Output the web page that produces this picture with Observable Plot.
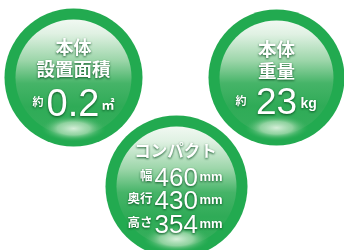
<!DOCTYPE html>
<html><head><meta charset="utf-8">
<script src="https://cdn.jsdelivr.net/npm/d3@7"></script>
<script src="https://cdn.jsdelivr.net/npm/@observablehq/plot@0.6"></script>
<style>
html,body{margin:0;padding:0;background:#fff;}
#chart svg text{filter:drop-shadow(0.6px 1px 0.8px rgba(0,70,25,0.85));}
</style>
</head><body>
<svg width="0" height="0" style="position:absolute">
<defs>
<linearGradient id="hl" x1="0" y1="0" x2="0" y2="1">
<stop offset="0" stop-color="#f1f9f2"/>
<stop offset="0.12" stop-color="#e0f1e3"/>
<stop offset="0.35" stop-color="#9dd6aa"/>
<stop offset="0.55" stop-color="#46b468"/>
<stop offset="0.75" stop-color="#2fab57"/>
<stop offset="1" stop-color="#36af5c"/>
</linearGradient>
<radialGradient id="glow" cx="0.5" cy="0.5" r="0.5" gradientTransform="translate(0.5,0.5) scale(1,0.4) translate(-0.5,-0.5)">
<stop offset="0" stop-color="#d6efd9" stop-opacity="1"/>
<stop offset="0.5" stop-color="#a6dbb0" stop-opacity="0.8"/>
<stop offset="1" stop-color="#3bb060" stop-opacity="0"/>
</radialGradient>
</defs>
</svg>
<div id="chart"></div>
<script>
// ---- data ----
const titles = [["本体", "設置面積"], ["本体", "重量"], ["コンパクト"]];
const approx = "約";
const areaValue = "0.2";
const areaUnit = "㎡";
const weightValue = "23";
const weightUnit = "kg";
const dimLabels = ["幅", "奥行", "高さ"];
const dimValues = ["460", "430", "354"];
const dimUnit = "mm";

// ---- layout ----
const circles = [
  {cx: 73, cy: 77, r: 69},
  {cx: 276, cy: 77, r: 68},
  {cx: 176, cy: 186, r: 71}
];
const ring = 11;
const CJK = "'Noto Sans CJK JP', sans-serif";
const NUM = "'Liberation Sans', Arial, sans-serif";

const texts = [];
// circle 1
texts.push({x: 73, y: 47.5, t: titles[0][0], s: 18, a: "middle", f: CJK, la: "middle"});
texts.push({x: 73, y: 70, t: titles[0][1], s: 18.5, a: "middle", f: CJK, la: "middle"});
texts.push({x: 43, y: 102, t: approx, s: 11, a: "end", f: CJK, la: "middle"});
texts.push({x: 46, y: 115, t: areaValue, s: 38, a: "start", f: NUM, la: "bottom", w: "normal"});
texts.push({x: 101, y: 108, t: areaUnit, s: 13, a: "start", f: CJK, la: "bottom"});
// circle 2
texts.push({x: 276, y: 49.5, t: titles[1][0], s: 18.5, a: "middle", f: CJK, la: "middle"});
texts.push({x: 276, y: 71.5, t: titles[1][1], s: 18.5, a: "middle", f: CJK, la: "middle"});
texts.push({x: 246, y: 101, t: approx, s: 11, a: "end", f: CJK, la: "middle"});
texts.push({x: 276, y: 113, t: weightValue, s: 37, a: "middle", f: NUM, la: "bottom", w: "normal"});
texts.push({x: 300, y: 107, t: weightUnit, s: 14, a: "start", f: NUM, la: "bottom"});
// circle 3
texts.push({x: 175, y: 151, t: titles[2][0], s: 16.5, a: "middle", f: CJK, la: "middle"});
dimLabels.forEach((lab, i) => {
  const base = 185 + i * 23.5;
  texts.push({x: 152, y: base - 10, t: lab, s: 12.5, a: "end", f: CJK, la: "middle"});
  texts.push({x: 154, y: base, t: dimValues[i], s: 26, a: "start", f: NUM, la: "bottom", w: "normal"});
  texts.push({x: 199, y: base - 5, t: dimUnit, s: 13, a: "start", f: NUM, la: "bottom"});
});

const glows = circles.map(c => ({cx: c.cx, cy: c.cy + c.r * 0.74, r: c.r * 0.47}));

const textMarks = texts.map(d => Plot.text([d], {
  x: "x", y: "y", text: "t",
  fontSize: d.s, textAnchor: d.a, lineAnchor: d.la,
  fontFamily: d.f, fontWeight: d.w || "bold", fill: "white"
}));

const chart = Plot.plot({
  width: 344, height: 250,
  margin: 0,
  x: {domain: [0, 344], range: [0, 344], axis: null},
  y: {domain: [0, 250], range: [0, 250], axis: null},
  r: {type: "identity"},
  marks: [
    Plot.dot(circles, {x: "cx", y: "cy", r: "r", fill: "#22aa50", stroke: "none"}),
    Plot.dot(circles, {x: "cx", y: "cy", r: d => d.r - ring, fill: "url(#hl)", stroke: "none"}),
    Plot.dot(glows, {x: "cx", y: "cy", r: "r", fill: "url(#glow)", stroke: "none"}),
    ...textMarks
  ]
});
document.getElementById("chart").appendChild(chart);
</script>
</body></html>
